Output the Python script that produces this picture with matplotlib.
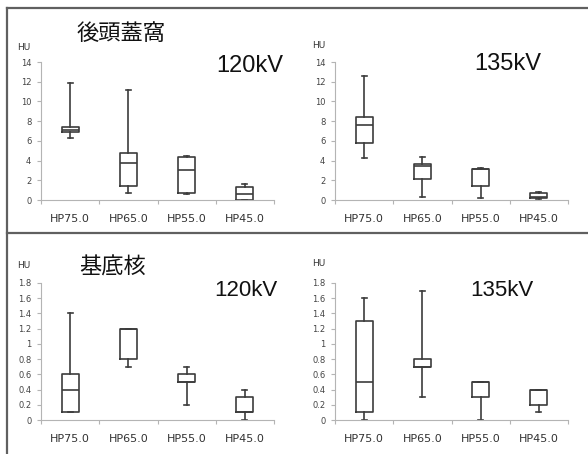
import matplotlib
matplotlib.use("Agg")
import matplotlib.pyplot as plt
from matplotlib.lines import Line2D

categories = ["HP75.0", "HP65.0", "HP55.0", "HP45.0"]

# Posterior fossa (後頭蓋窩) 120kV
pf120_whislo = [6.3, 0.7, 0.6, 0.0]
pf120_q1     = [6.9, 1.4, 0.7, 0.05]
pf120_med    = [7.15, 3.8, 3.0, 0.6]
pf120_q3     = [7.4, 4.8, 4.4, 1.3]
pf120_whishi = [11.9, 11.2, 4.5, 1.6]

# Posterior fossa 135kV
pf135_whislo = [4.3, 0.3, 0.2, 0.1]
pf135_q1     = [5.8, 2.1, 1.4, 0.2]
pf135_med    = [7.6, 3.5, 3.1, 0.3]
pf135_q3     = [8.4, 3.7, 3.1, 0.7]
pf135_whishi = [12.6, 4.4, 3.2, 0.8]

# Basal ganglia (基底核) 120kV
bg120_whislo = [0.1, 0.7, 0.2, 0.0]
bg120_q1     = [0.1, 0.8, 0.5, 0.1]
bg120_med    = [0.4, 1.2, 0.5, 0.1]
bg120_q3     = [0.6, 1.2, 0.6, 0.3]
bg120_whishi = [1.4, 1.2, 0.7, 0.4]

# Basal ganglia 135kV
bg135_whislo = [0.0, 0.3, 0.0, 0.1]
bg135_q1     = [0.1, 0.7, 0.3, 0.2]
bg135_med    = [0.5, 0.7, 0.5, 0.4]
bg135_q3     = [1.3, 0.8, 0.5, 0.4]
bg135_whishi = [1.6, 1.7, 0.5, 0.4]

pf_ticks = [0, 2, 4, 6, 8, 10, 12, 14]
bg_ticks = [0, 0.2, 0.4, 0.6, 0.8, 1, 1.2, 1.4, 1.6, 1.8]
bg_ticklabels = ["0", "0.2", "0.4", "0.6", "0.8", "1", "1.2", "1.4", "1.6", "1.8"]

W, H = 588, 454
fig = plt.figure(figsize=(W / 100, H / 100), dpi=100)

BOXC = "#3c3c3c"
SPC = "#b4b4b4"


def make_panel(rect, wl, q1, med, q3, wh, ticks, ticklabels, ymax):
    ax = fig.add_axes(rect)
    stats = []
    for i in range(len(categories)):
        stats.append(dict(whislo=wl[i], q1=q1[i], med=med[i], q3=q3[i],
                          whishi=wh[i], fliers=[]))
    pos = [i + 0.5 for i in range(len(categories))]
    lp = dict(color=BOXC, linewidth=1.2)
    ax.bxp(stats, positions=pos, widths=0.29, capwidths=0.09,
           showfliers=False, boxprops=lp, whiskerprops=lp, capprops=lp,
           medianprops=lp, manage_ticks=False)
    ax.set_xlim(0, len(categories))
    ax.set_ylim(0, ymax)
    for s in ["top", "right"]:
        ax.spines[s].set_visible(False)
    for s in ["left", "bottom"]:
        ax.spines[s].set_color(SPC)
        ax.spines[s].set_linewidth(0.8)
    ax.set_yticks(ticks)
    ax.set_yticklabels(ticklabels, fontsize=6, color="#444444")
    ax.set_xticks(range(len(categories) + 1))
    ax.set_xticklabels([])
    ax.set_xticks(pos, minor=True)
    ax.set_xticklabels(categories, minor=True, fontsize=8, color="#333333")
    ax.tick_params(axis="x", which="major", length=3, color=SPC, width=0.8)
    ax.tick_params(axis="x", which="minor", length=0, pad=10)
    ax.tick_params(axis="y", length=3, color=SPC, width=0.8, pad=4)
    ax.patch.set_alpha(0)
    return ax


def fx(px):
    return px / W


def fy(py):
    return 1 - py / H


aw = fx(274) - fx(41)
make_panel([fx(41), fy(200), aw, fy(62) - fy(200)],
           pf120_whislo, pf120_q1, pf120_med, pf120_q3, pf120_whishi,
           pf_ticks, [str(t) for t in pf_ticks], 14)
make_panel([fx(335), fy(200), aw, fy(62) - fy(200)],
           pf135_whislo, pf135_q1, pf135_med, pf135_q3, pf135_whishi,
           pf_ticks, [str(t) for t in pf_ticks], 14)
make_panel([fx(41), fy(420), aw, fy(283) - fy(420)],
           bg120_whislo, bg120_q1, bg120_med, bg120_q3, bg120_whishi,
           bg_ticks, bg_ticklabels, 1.8)
make_panel([fx(335), fy(420), aw, fy(283) - fy(420)],
           bg135_whislo, bg135_q1, bg135_med, bg135_q3, bg135_whishi,
           bg_ticks, bg_ticklabels, 1.8)

cjk = ["Noto Sans CJK JP", "DejaVu Sans"]
fig.text(fx(77), fy(33), "後頭蓋窩", family=cjk, fontsize=16, va="center", ha="left", color="#111111")
fig.text(fx(79), fy(267), "基底核", family=cjk, fontsize=16, va="center", ha="left", color="#111111")

kvfont = ["Liberation Sans", "DejaVu Sans"]
fig.text(fx(283), fy(66), "120kV", family=kvfont, fontsize=17, va="center", ha="right", color="#111111")
fig.text(fx(541), fy(64), "135kV", family=kvfont, fontsize=17, va="center", ha="right", color="#111111")
fig.text(fx(278), fy(290), "120kV", family=kvfont, fontsize=16, va="center", ha="right", color="#111111")
fig.text(fx(534), fy(290), "135kV", family=kvfont, fontsize=16, va="center", ha="right", color="#111111")

for (x, y) in [(17, 48), (312, 46), (17, 266), (312, 264)]:
    fig.text(fx(x), fy(y), "HU", fontsize=6.5, va="center", ha="left", color="#333333")

fc = "#606060"
fig.add_artist(Line2D([fx(7), 1], [fy(7.5), fy(7.5)], color=fc, linewidth=1.6, transform=fig.transFigure))
fig.add_artist(Line2D([fx(7), fx(7)], [0, fy(7.5)], color=fc, linewidth=1.6, transform=fig.transFigure))
fig.add_artist(Line2D([fx(7), 1], [fy(232.5), fy(232.5)], color=fc, linewidth=1.6, transform=fig.transFigure))

fig.savefig("out.png", dpi=100, facecolor="white")
